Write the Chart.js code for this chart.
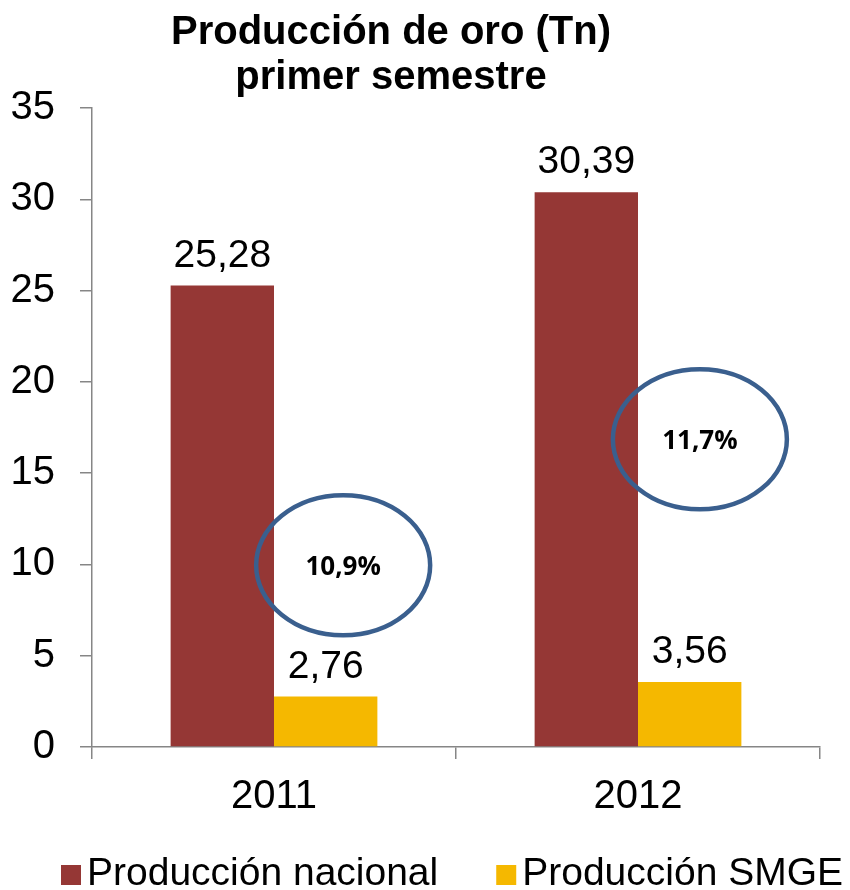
<!DOCTYPE html>
<html>
<head>
<meta charset="utf-8">
<script src="https://cdn.jsdelivr.net/npm/chart.js@4/dist/chart.umd.min.js"></script>
<style>
  html, body { margin: 0; padding: 0; background: #fff; }
  #wrap { width: 850px; height: 890px; }
</style>
</head>
<body>
<div id="wrap"><canvas id="myChart"></canvas></div>
<script>
    // datos del grafico
    var years = ["2011", "2012"];
    var nacional = [25.28, 30.39];
    var smge = [2.76, 3.56];
    var seriesNames = ["Producción nacional", "Producción SMGE"];
    var barColors = ["#953735", "#F5B800"];
    var titleLines = ["Producción de oro (Tn)", "primer semestre"];

    // circulos con porcentaje (posicion en unidades de categoria / valor)
    var pctLabels = ["10,9%", "11,7%"];
    var pctX = [0.19, 1.17];
    var pctY = [9.95, 16.85];

    var fontMain = "'Liberation Sans', Arial, sans-serif";

    function fmt(v) {
        return v.toFixed(2).replace(".", ",");
    }

    var extras = {
        id: "extras",
        afterDatasetsDraw: function (chart) {
            var ctx = chart.ctx;
            ctx.save();
            ctx.fillStyle = "#000";
            ctx.font = "39px " + fontMain;
            ctx.textAlign = "center";
            ctx.textBaseline = "bottom";
            chart.data.datasets.forEach(function (ds, i) {
                var meta = chart.getDatasetMeta(i);
                meta.data.forEach(function (bar, j) {
                    ctx.fillText(fmt(ds.data[j]), bar.x, bar.y - 10);
                });
            });

            // elipses
            var xs = chart.scales.x, ys = chart.scales.y;
            var step = xs.getPixelForValue(1) - xs.getPixelForValue(0);
            ctx.strokeStyle = "#3A5F8E";
            ctx.lineWidth = 4.5;
            for (var k = 0; k < pctLabels.length; k++) {
                var base = Math.floor(pctX[k]);
                var cx = xs.getPixelForValue(base) + (pctX[k] - base) * step;
                var cy = ys.getPixelForValue(pctY[k]);
                ctx.beginPath();
                ctx.ellipse(cx, cy, 87, 70, 0, 0, Math.PI * 2);
                ctx.stroke();
                ctx.font = "bold 26px 'Open Sans', sans-serif";
                ctx.textBaseline = "middle";
                ctx.fillText(pctLabels[k], cx, cy + 2);
            }

            // titulo
            ctx.font = "bold 40px " + fontMain;
            ctx.textBaseline = "alphabetic";
            ctx.fillText(titleLines[0], 391, 44);
            ctx.fillText(titleLines[1], 391, 89);

            // leyenda
            ctx.font = "39px " + fontMain;
            ctx.textAlign = "left";
            ctx.textBaseline = "middle";
            var lx = 61;
            for (var s = 0; s < seriesNames.length; s++) {
                ctx.fillStyle = barColors[s];
                ctx.fillRect(lx, 865, 20, 20);
                ctx.fillStyle = "#000";
                ctx.fillText(seriesNames[s], lx + 26, 874);
                lx += 26 + ctx.measureText(seriesNames[s]).width + 58;
            }
            ctx.restore();
        }
    };

    new Chart("myChart", {
      type: "bar",
      data: {
        labels: years,
        datasets: [{
          label: seriesNames[0],
          backgroundColor: barColors[0],
          data: nacional
        }, {
          label: seriesNames[1],
          backgroundColor: barColors[1],
          data: smge
        }]
      },
      options: {
        responsive: true,
        maintainAspectRatio: false,
        animation: false,
        layout: { padding: { left: 0, right: 30, top: 108, bottom: 55 } },
        datasets: {
          bar: { categoryPercentage: 0.568, barPercentage: 1.0 }
        },
        scales: {
          x: {
            grid: { offset: true, drawOnChartArea: false, drawTicks: true, tickLength: 12, color: "#868686", lineWidth: 1.5 },
            border: { color: "#868686", width: 1.5 },
            ticks: { color: "#000", font: { family: fontMain, size: 40 }, padding: 14 }
          },
          y: {
            min: 0,
            max: 35,
            afterFit: function (scale) { scale.width = 92; },
            ticks: { stepSize: 5, color: "#000", font: { family: fontMain, size: 40 }, padding: 25 },
            grid: { drawOnChartArea: false, drawTicks: true, tickLength: 12, color: "#868686", lineWidth: 1.5 },
            border: { color: "#868686", width: 1.5 }
          }
        },
        plugins: {
          title: { display: false },
          legend: { display: false },
          tooltip: { enabled: false }
        }
      },
      plugins: [extras]
    });
</script>
</body>
</html>
